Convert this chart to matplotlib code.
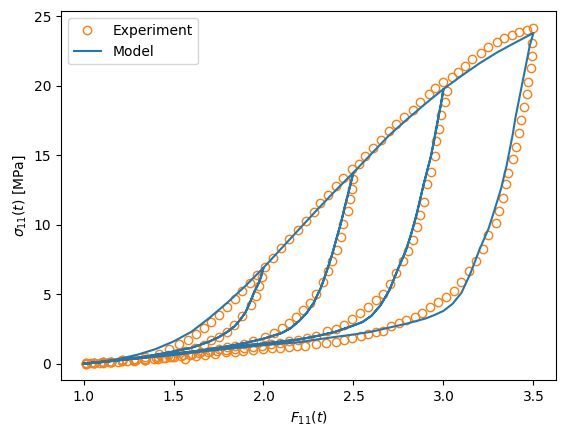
import numpy as np
import matplotlib
matplotlib.use("Agg")
from matplotlib import pyplot as plt

# experiment: virgin loading envelope (1.0 -> 3.5)
exp_env_x = [1.013, 1.059, 1.106, 1.15, 1.214, 1.279, 1.344, 1.417, 1.476, 1.531,
             1.579, 1.626, 1.667, 1.709, 1.753, 1.8, 1.841, 1.883, 1.923, 1.964,
             2.011, 2.053, 2.098, 2.142, 2.189, 2.234, 2.278, 2.312, 2.361, 2.402,
             2.44, 2.491, 2.533, 2.564, 2.611, 2.652, 2.698, 2.739, 2.781, 2.828,
             2.871, 2.917, 2.953, 3.0, 3.046, 3.079, 3.12, 3.161, 3.207, 3.25,
             3.296, 3.339, 3.379, 3.42, 3.463, 3.5]
exp_env_y = [0.02, 0.05, 0.12, 0.15, 0.27, 0.35, 0.48, 0.72, 1.03, 1.39,
             1.73, 2.14, 2.57, 3.0, 3.51, 4.08, 4.66, 5.21, 5.8, 6.41,
             6.93, 7.61, 8.33, 8.98, 9.64, 10.23, 10.92, 11.55, 12.15, 12.77,
             13.34, 13.97, 14.38, 14.93, 15.5, 16.1, 16.7, 17.26, 17.75, 18.26,
             18.83, 19.39, 19.8, 20.23, 20.59, 21.0, 21.43, 21.91, 22.34, 22.75,
             23.11, 23.4, 23.64, 23.83, 24.02, 24.12]

# experiment: unloading from F11 = 2.0
exp_u20_x = [1.992, 1.974, 1.957, 1.929, 1.883, 1.837, 1.8, 1.753, 1.709, 1.667,
             1.62, 1.565, 1.52, 1.47, 1.415, 1.344, 1.279, 1.214, 1.15, 1.106,
             1.059, 1.013]
exp_u20_y = [6.21, 5.62, 4.9, 4.25, 3.46, 2.81, 2.3, 1.92, 1.68, 1.37,
             1.13, 0.89, 0.75, 0.6, 0.45, 0.34, 0.25, 0.2, 0.12, 0.08,
             0.03, 0.0]

# experiment: unloading from F11 = 2.5
exp_u25_x = [2.5, 2.489, 2.479, 2.467, 2.442, 2.428, 2.406, 2.383, 2.359, 2.331,
             2.294, 2.26, 2.217, 2.178, 2.142, 2.102, 2.061, 2.009, 1.939, 1.889,
             1.842, 1.796, 1.75, 1.7, 1.65, 1.6, 1.55, 1.5, 1.45, 1.4,
             1.344, 1.279, 1.214, 1.15, 1.106, 1.059, 1.013]
exp_u25_y = [13.3, 12.58, 11.86, 10.97, 10.06, 9.14, 8.19, 7.42, 6.7, 5.86,
             5.02, 4.4, 3.85, 3.38, 2.93, 2.57, 2.23, 1.92, 1.61, 1.44,
             1.3, 1.18, 1.05, 0.95, 0.82, 0.72, 0.6, 0.5, 0.42, 0.38,
             0.3, 0.24, 0.2, 0.12, 0.1, 0.04, 0.01]

# experiment: unloading from F11 = 3.0
exp_u30_x = [3.018, 3.006, 2.987, 2.974, 2.961, 2.952, 2.933, 2.91, 2.891, 2.872,
             2.853, 2.831, 2.803, 2.776, 2.739, 2.702, 2.664, 2.624, 2.581, 2.535,
             2.489, 2.446, 2.402, 2.353, 2.294, 2.24, 2.19, 2.14, 2.09, 2.04,
             1.99, 1.94, 1.89, 1.84, 1.79, 1.74, 1.69, 1.64, 1.59, 1.54,
             1.49, 1.44, 1.39, 1.34, 1.29, 1.24, 1.19, 1.14, 1.09, 1.04]
exp_u30_y = [19.63, 18.84, 17.88, 16.88, 16.05, 14.97, 13.77, 12.89, 11.61, 10.66,
             9.86, 8.9, 8.14, 7.42, 6.5, 5.74, 5.02, 4.59, 4.05, 3.62,
             3.22, 2.81, 2.5, 2.38, 2.02, 1.85, 1.72, 1.6, 1.5, 1.4,
             1.3, 1.22, 1.12, 1.05, 0.98, 0.9, 0.82, 0.74, 0.66, 0.57,
             0.5, 0.42, 0.36, 0.3, 0.24, 0.18, 0.13, 0.09, 0.05, 0.02]

# experiment: unloading from F11 = 3.5
exp_u35_x = [3.494, 3.491, 3.487, 3.472, 3.463, 3.45, 3.429, 3.417, 3.402, 3.389,
             3.361, 3.35, 3.328, 3.309, 3.291, 3.248, 3.217, 3.179, 3.142, 3.1,
             3.057, 3.013, 2.97, 2.924, 2.883, 2.841, 2.794, 2.753, 2.711, 2.664,
             2.624, 2.581, 2.539, 2.494, 2.446, 2.402, 2.35, 2.291, 2.229, 2.185,
             2.139, 2.092, 2.046, 2.0, 1.939, 1.887, 1.841, 1.791, 1.729, 1.674,
             1.624, 1.563, 1.479, 1.415, 1.344, 1.279, 1.214, 1.15, 1.106, 1.059,
             1.013]
exp_u35_y = [23.06, 22.15, 21.24, 20.28, 19.39, 18.43, 17.54, 16.58, 15.57, 14.69,
             13.73, 12.89, 11.93, 10.97, 10.1, 9.22, 8.26, 7.42, 6.65, 5.86,
             5.26, 4.78, 4.41, 4.05, 3.62, 3.33, 3.14, 2.9, 2.69, 2.38,
             2.26, 2.14, 2.02, 1.85, 1.71, 1.53, 1.49, 1.42, 1.3, 1.25,
             1.2, 1.15, 1.1, 1.05, 0.96, 0.89, 0.87, 0.82, 0.7, 0.6,
             0.56, 0.34, 0.46, 0.34, 0.29, 0.22, 0.29, 0.14, 0.14, 0.02,
             0.02]

# model: virgin curve
mod_env_x = [1.0, 1.1, 1.2, 1.3, 1.4, 1.5, 1.6, 1.7, 1.8, 1.9, 2.0, 2.1, 2.2,
             2.3, 2.4, 2.5, 2.6, 2.7, 2.8, 2.9, 3.0, 3.1, 3.2, 3.3, 3.4, 3.5]
mod_env_y = [0.0, 0.15, 0.35, 0.65, 1.05, 1.6, 2.3, 3.3, 4.4, 5.6, 6.9, 8.3, 9.7,
             11.1, 12.45, 13.75, 15.1, 16.45, 17.6, 18.7, 19.75, 20.7, 21.6, 22.4, 23.1, 23.78]

# model: unloading curves (reloading retraces them)
mod_u20_x = [2.0, 1.985, 1.97, 1.95, 1.925, 1.9, 1.87, 1.84, 1.8, 1.75, 1.7, 1.65,
             1.6, 1.5, 1.4, 1.3, 1.2, 1.1, 1.0]
mod_u20_y = [6.9, 6.2, 5.7, 5.2, 4.4, 3.7, 3.15, 2.7, 2.3, 1.9, 1.6, 1.37,
             1.15, 0.88, 0.64, 0.42, 0.25, 0.11, 0.0]

mod_u25_x = [2.5, 2.485, 2.47, 2.45, 2.43, 2.41, 2.38, 2.35, 2.32, 2.28, 2.24, 2.2,
             2.15, 2.1, 2.0, 1.9, 1.8, 1.7, 1.6, 1.5, 1.4, 1.3, 1.2, 1.1, 1.0]
mod_u25_y = [13.75, 13.0, 12.2, 11.2, 10.1, 9.2, 7.8, 6.6, 5.5, 4.4, 3.65, 3.1,
             2.55, 2.2, 1.8, 1.5, 1.25, 1.05, 0.85, 0.7, 0.55, 0.4, 0.27, 0.13, 0.0]

mod_u30_x = [3.0, 2.985, 2.97, 2.95, 2.93, 2.91, 2.89, 2.87, 2.85, 2.82, 2.79, 2.75,
             2.7, 2.65, 2.6, 2.55, 2.5, 2.4, 2.3, 2.2, 2.1, 2.0, 1.9, 1.8, 1.7,
             1.6, 1.5, 1.4, 1.3, 1.2, 1.1, 1.0]
mod_u30_y = [19.75, 18.6, 17.6, 16.2, 14.9, 13.9, 12.9, 11.8, 10.7, 9.3, 8.1, 6.9,
             5.3, 4.2, 3.45, 3.0, 2.75, 2.3, 2.0, 1.75, 1.6, 1.45, 1.3, 1.15, 1.0,
             0.85, 0.7, 0.55, 0.4, 0.27, 0.13, 0.0]

mod_u35_x = [3.5, 3.48, 3.46, 3.44, 3.42, 3.4, 3.385, 3.35, 3.32, 3.28, 3.25, 3.2,
             3.15, 3.1, 3.05, 3.0, 2.95, 2.9, 2.8, 2.7, 2.6, 2.5, 2.4, 2.3, 2.2,
             2.1, 2.0, 1.9, 1.8, 1.7, 1.6, 1.5, 1.4, 1.3, 1.2, 1.1, 1.0]
mod_u35_y = [23.78, 22.9, 21.6, 20.3, 19.0, 17.7, 16.5, 14.2, 12.6, 10.9, 9.7, 8.2,
             6.5, 5.1, 4.3, 3.8, 3.5, 3.25, 2.9, 2.6, 2.3, 2.1, 1.93, 1.75, 1.55,
             1.45, 1.33, 1.2, 1.07, 0.93, 0.78, 0.62, 0.5, 0.38, 0.26, 0.13, 0.0]


def load_path(env_x, env_y, unloads):
    """Chain virgin loading, unloading and reloading into one path."""
    env_x = np.asarray(env_x)
    env_y = np.asarray(env_y)
    px, py = [], []
    lo = env_x[0] - 1e-9
    for ux, uy in unloads:
        peak = ux[0]
        m = (env_x > lo) & (env_x <= peak + 1e-9)
        px += list(env_x[m])
        py += list(env_y[m])
        px += list(ux) + list(ux[::-1])
        py += list(uy) + list(uy[::-1])
        lo = peak + 1e-9
    return np.array(px[:-len(unloads[-1][0])]), np.array(py[:-len(unloads[-1][0])])


exp_x = np.concatenate([exp_env_x, exp_u20_x, exp_u25_x, exp_u30_x, exp_u35_x])
exp_y = np.concatenate([exp_env_y, exp_u20_y, exp_u25_y, exp_u30_y, exp_u35_y])

mod_x, mod_y = load_path(mod_env_x, mod_env_y,
                         [(mod_u20_x, mod_u20_y), (mod_u25_x, mod_u25_y),
                          (mod_u30_x, mod_u30_y), (mod_u35_x, mod_u35_y)])

fig = plt.figure(figsize=(5.65, 4.37), dpi=100)
ax = fig.add_axes([0.108, 0.1293, 0.876, 0.8444])
ax.plot(exp_x, exp_y, 'o', color='C1', mfc='none', label='Experiment')
ax.plot(mod_x, mod_y, '-', color='C0', label='Model')
ax.set_xlabel(r'$F_{11}(t)$')
ax.set_ylabel(r'$\sigma_{11}(t)$ [MPa]')
ax.legend(loc='upper left')
fig.savefig('out.png', dpi=100)
